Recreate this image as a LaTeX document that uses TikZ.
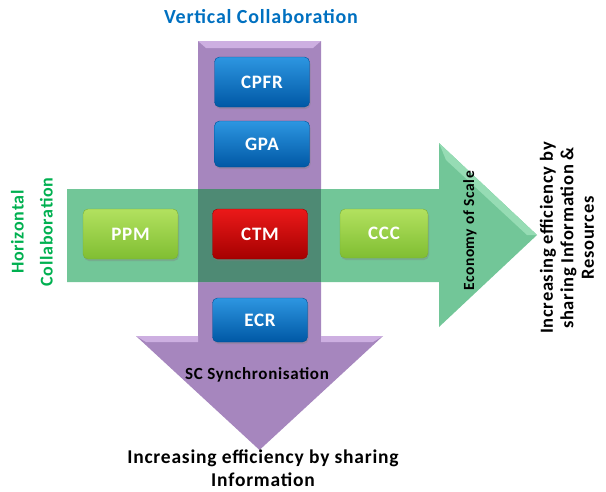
\documentclass[tikz,border=0pt]{standalone}
\usepackage{fontspec}
\setmainfont{Carlito}
\newfontfamily\wide[LetterSpace=4]{Carlito}
\usetikzlibrary{shadows}
\definecolor{vpurple}{RGB}{166,134,190}
\definecolor{vpurplelt}{RGB}{205,175,225}
\definecolor{hgreen}{RGB}{114,198,152}
\definecolor{hgreenlt}{RGB}{150,220,180}
\definecolor{overlap}{RGB}{78,138,116}
\definecolor{titleblue}{RGB}{0,112,192}
\definecolor{labgreen}{RGB}{0,176,80}
\tikzset{
  box/.style={rounded corners=5pt, minimum width=95pt, minimum height=48pt,
    text=white, font=\wide\bfseries\fontsize{19}{19}\selectfont, inner sep=0pt,
    drop shadow={shadow xshift=1pt, shadow yshift=-2pt, opacity=0.35}},
  bluebox/.style={box, top color={rgb,255:red,45;green,150;blue,225}, bottom color={rgb,255:red,0;green,88;blue,165}, draw={rgb,255:red,0;green,80;blue,150}},
  redbox/.style={box, top color={rgb,255:red,235;green,25;blue,25}, bottom color={rgb,255:red,165;green,0;blue,0}, draw={rgb,255:red,150;green,0;blue,0}},
  greenbox/.style={box, top color={rgb,255:red,178;green,225;blue,95}, bottom color={rgb,255:red,128;green,190;blue,50}, draw={rgb,255:red,120;green,175;blue,55}},
  lab/.style={align=center, inner sep=0pt}
}
\begin{document}
\begin{tikzpicture}[x=1pt,y=-1pt]
\useasboundingbox (0,0) rectangle (606,491);
% vertical arrow
\fill[vpurple] (198,41) -- (321,41) -- (321,336) -- (383,336) -- (259.5,450) -- (136,336) -- (198,336) -- cycle;
\fill[vpurplelt] (198,41) -- (321,41) -- (313,48) -- (206,48) -- cycle;
\fill[vpurplelt] (136,336) -- (198,336) -- (198,342) -- (146,342) -- cycle;
\fill[vpurplelt] (321,336) -- (383,336) -- (373,342) -- (321,342) -- cycle;
% horizontal arrow
\fill[hgreen] (67,189) -- (439,189) -- (439,143) -- (537,235) -- (439,327) -- (439,282) -- (67,282) -- cycle;
\fill[hgreenlt] (439,143) -- (537,235) -- (527,235) -- (446,160) -- cycle;
\fill[overlap] (198,189) rectangle (321,282);
% boxes
\node[bluebox, minimum height=50pt] (cpfr) at (262,82) {CPFR};
\node[bluebox, minimum height=46pt] (gpa) at (262,144) {GPA};
\node[redbox, minimum height=50pt] (ctm) at (260,234) {CTM};
\node[greenbox, minimum height=50pt] (ppm) at (130.5,234) {PPM};
\node[greenbox, minimum width=88pt, minimum height=49pt] (ccc) at (384,233.5) {CCC};
\node[bluebox, minimum height=44pt] (ecr) at (260,320) {ECR};
% labels
\node[lab, text=titleblue, font=\wide\bfseries\fontsize{20}{24}\selectfont] (vc) at (261,17) {Vertical Collaboration};
\node[lab, text=labgreen, rotate=90, font=\wide\bfseries\fontsize{18}{29}\selectfont] (hc) at (32,232) {Horizontal\\Collaboration};
\node[lab, rotate=90, font=\wide\bfseries\fontsize{18.5}{20.5}\selectfont] (right) at (567,238) {Increasing efficiency by\\sharing Information \&\\Resources};
\node[lab, rotate=90, font=\wide\bfseries\fontsize{15.5}{17}\selectfont] (eos) at (470,231) {Economy of Scale};
\node[lab, font=\wide\bfseries\fontsize{17}{18}\selectfont] (scs) at (257,375) {SC Synchronisation};
\node[lab, font=\wide\bfseries\fontsize{19.5}{23}\selectfont] (bottom) at (263,468) {Increasing efficiency by sharing\\Information};
\end{tikzpicture}
\end{document}
